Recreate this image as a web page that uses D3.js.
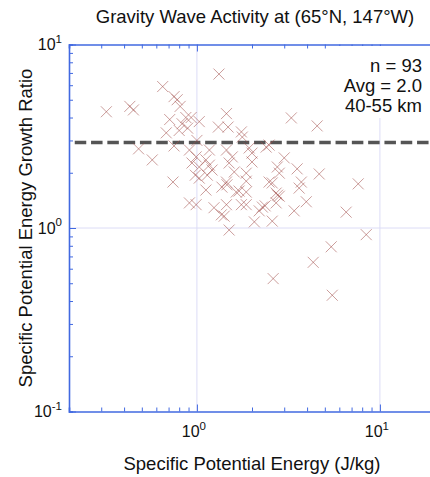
<!DOCTYPE html>
<html>
<head>
<meta charset="utf-8">
<script src="https://cdn.jsdelivr.net/npm/d3@7"></script>
<style>
  body { margin: 0; background: #fff; }
  text { font-family: "Liberation Sans", Arial, sans-serif; fill: #111; }
</style>
</head>
<body>
<script>
// specific potential energy (J/kg) and growth ratio
var energy = [0.32, 0.43, 0.45, 0.48, 0.57, 0.65, 0.75, 0.78, 0.81, 0.71,
  0.68, 0.75, 0.74, 0.87, 0.83, 0.93, 1.03, 0.80, 0.89, 1.32,
  1.45, 1.31, 1.48, 1.00, 0.91, 0.99, 0.94, 1.17, 1.12, 1.03,
  1.45, 1.56, 1.50, 1.75, 1.77, 3.28, 4.54, 1.93, 2.00, 2.39,
  2.48, 3.00, 2.75, 2.82, 3.53, 4.66, 7.61, 2.58, 3.72, 3.62,
  2.71, 2.82, 2.71, 3.96, 2.28, 3.40, 6.54, 2.06, 2.58, 8.42,
  5.42, 4.32, 2.61, 5.49, 0.91, 0.99, 1.24, 1.36, 1.41, 1.50,
  1.45, 1.75, 1.86, 2.19, 1.12, 1.37, 1.64, 1.86, 1.45, 1.86,
  2.48, 0.98, 1.03, 1.14, 1.17, 2.76, 1.60, 1.86, 2.00, 1.21,
  1.46, 1.70, 2.36];
var ratio = [4.3, 4.6, 4.4, 2.7, 2.35, 5.9, 5.2, 5.0, 4.6, 3.9,
  3.3, 2.8, 1.78, 4.0, 3.7, 4.0, 3.8, 3.4, 3.5, 6.9,
  4.2, 3.55, 3.55, 3.0, 2.66, 2.44, 2.26, 2.66, 2.35, 2.15,
  2.66, 2.44, 2.26, 3.34, 3.13, 3.98, 3.6, 2.73, 2.56, 2.76,
  2.83, 2.41, 2.15, 1.99, 2.10, 1.97, 1.74, 1.76, 1.78, 1.65,
  1.55, 1.49, 1.37, 1.39, 1.30, 1.24, 1.22, 1.08, 1.09, 0.92,
  0.79, 0.65, 0.53, 0.43, 1.37, 1.34, 1.29, 1.18, 1.16, 0.975,
  1.34, 1.34, 1.34, 1.24, 1.61, 1.67, 1.57, 1.57, 1.78, 1.80,
  1.78, 1.94, 1.87, 1.94, 2.20, 1.51, 2.02, 1.99, 2.29, 2.07,
  1.72, 1.59, 1.32];

var refRatio = 2.92;            // dashed reference level
var refSpan = [0.215, 25];      // x extent of the dashed line
var xLabelTicks = [1, 10];
var yLabelTicks = [0.1, 1, 10];
var notes = ["n = 93", "Avg = 2.0", "40-55 km"];

var width = 430, height = 477;
var margin = {top: 44.5, left: 69, bottom: 65.5};

var x = d3.scaleLog().domain([0.2, 20]).range([margin.left, margin.left + 366]);
var y = d3.scaleLog().domain([0.1, 10]).range([height - margin.bottom, margin.top]);

var blue = "#4169e1", grid = "#dcdcf6";

var svg = d3.select("body").append("svg")
    .attr("width", width)
    .attr("height", height);

// grid lines at the decades
svg.append("g").selectAll("line")
  .data(xLabelTicks)
  .enter().append("line")
    .attr("x1", d => x(d)).attr("x2", d => x(d))
    .attr("y1", y.range()[0]).attr("y2", y.range()[1])
    .attr("stroke", grid);
svg.append("line")
    .attr("x1", x.range()[0]).attr("x2", x.range()[1])
    .attr("y1", y(1)).attr("y2", y(1))
    .attr("stroke", grid);

// axes with inward ticks
function styleAxis(g) {
  g.select(".domain").attr("stroke", blue).attr("stroke-width", 1.6);
  g.selectAll(".tick line").attr("stroke", blue);
}
var xt = x.ticks(), yt = y.ticks();

var gx = svg.append("g")
    .attr("transform", "translate(0," + y.range()[0] + ")")
    .call(d3.axisBottom(x).tickValues(xt).tickFormat("").tickSizeOuter(0).tickSize(-4));
styleAxis(gx);
var gt = svg.append("g")
    .attr("transform", "translate(0," + y.range()[1] + ")")
    .call(d3.axisTop(x).tickValues(xt).tickFormat("").tickSizeOuter(0).tickSize(-4));
styleAxis(gt);
var gy = svg.append("g")
    .attr("transform", "translate(" + x.range()[0] + ",0)")
    .call(d3.axisLeft(y).tickValues(yt).tickFormat("").tickSizeOuter(0).tickSize(-4));
styleAxis(gy);
[gx, gt].forEach(g => g.selectAll(".tick line")
    .filter(d => xLabelTicks.indexOf(d) >= 0).attr("y2", g === gx ? -7 : 7));
gy.selectAll(".tick line")
    .filter(d => yLabelTicks.indexOf(d) >= 0).attr("x2", 7);

// tick labels as 10 with a superscript
function pow(sel) {
  sel.append("tspan").attr("font-size", 16).text("10");
  sel.append("tspan").attr("font-size", 11.5).attr("dy", -7.5)
    .text(d => Math.round(Math.log10(d)));
}
svg.append("g").selectAll("text")
  .data(xLabelTicks)
  .enter().append("text")
    .attr("x", d => x(d) - 3)
    .attr("y", 437)
    .attr("text-anchor", "middle")
    .call(pow);
svg.append("g").selectAll("text")
  .data(yLabelTicks)
  .enter().append("text")
    .attr("x", 62)
    .attr("y", d => y(d) + 5.5)
    .attr("text-anchor", "end")
    .call(pow);

// reference (dashed) line
svg.append("line")
    .attr("x1", x(refSpan[0])).attr("x2", x(refSpan[1]))
    .attr("y1", y(refRatio)).attr("y2", y(refRatio))
    .attr("stroke", "#555")
    .attr("stroke-width", 3.5)
    .attr("stroke-dasharray", "11.5,4.8");

// scatter markers
svg.append("g").selectAll("path")
  .data(energy.map((e, i) => [e, ratio[i]]))
  .enter().append("path")
    .attr("transform", d => "translate(" + x(d[0]) + "," + y(d[1]) + ")")
    .attr("d", "M-5.5,-5.5L5.5,5.5M5.5,-5.5L-5.5,5.5")
    .attr("stroke", "#a04c48")
    .attr("stroke-opacity", 0.55)
    .attr("fill", "none");

// annotation box
svg.append("rect")
    .attr("x", 336).attr("y", y.range()[1] + 1.5)
    .attr("width", 94).attr("height", 72)
    .attr("fill", "#fff");
svg.append("g").selectAll("text")
  .data(notes)
  .enter().append("text")
    .attr("x", 422)
    .attr("y", (d, i) => 72 + i * 20)
    .attr("text-anchor", "end")
    .attr("font-size", 18.5)
    .text(d => d);

// title and axis labels
svg.append("text")
    .attr("x", 255).attr("y", 23)
    .attr("text-anchor", "middle")
    .attr("font-size", 18.5)
    .text("Gravity Wave Activity at (65°N, 147°W)");
svg.append("text")
    .attr("x", 252).attr("y", 470)
    .attr("text-anchor", "middle")
    .attr("font-size", 18.5)
    .text("Specific Potential Energy (J/kg)");
svg.append("text")
    .attr("transform", "translate(32," + y(1) + ") rotate(-90)")
    .attr("text-anchor", "middle")
    .attr("font-size", 18.5)
    .text("Specific Potential Energy Growth Ratio");
</script>
</body>
</html>
